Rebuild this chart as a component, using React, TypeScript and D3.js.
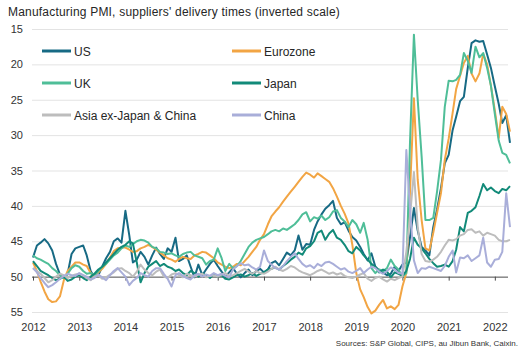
import * as d3 from "d3";
import React, { useEffect, useRef } from "react";

// monthly readings, Jan 2012 - May 2022 (inverted index, lower = longer delivery times)
const startMonth = new Date(2012, 0, 1);
const endMonth = new Date(2022, 5, 1);

const usValues = [
  47.3, 45.6, 45.2, 44.7, 45.3, 46.3, 48.2, 49.7, 50.2, 49.6, 46.8, 46.0,
  45.8, 45.6, 47.0, 49.2, 50.1, 49.8, 48.6, 47.4, 46.5, 45.0, 44.6, 45.2,
  40.7, 44.2, 48.0, 47.6, 46.5, 47.2, 48.3, 47.0, 45.9, 46.8, 47.5, 46.0,
  46.5, 44.5, 47.8, 47.5, 47.0, 48.6, 50.1, 48.3, 49.8, 49.0, 48.2, 47.6,
  48.5, 49.3, 50.0, 49.4, 48.8, 49.6, 50.1, 49.5, 49.0, 49.8, 49.2, 48.9,
  49.4, 49.0, 48.1, 47.8, 48.4, 47.5, 46.6, 47.0, 46.3, 44.2, 46.2, 45.4,
  45.5, 43.4, 42.2, 41.2, 40.4, 39.9, 39.3, 41.7, 42.6, 42.3, 43.5, 44.4,
  44.9, 45.8, 46.8, 47.7, 46.7, 48.6, 49.1, 49.4, 49.8, 49.6, 48.6, 49.2,
  48.3, 48.0, 44.5, 40.3, 43.5, 45.8, 46.3, 47.0, 43.0, 40.5, 37.5, 34.0,
  32.8, 29.3, 27.4, 25.2, 24.6, 20.5, 17.0, 16.6, 16.8, 16.7, 18.6, 20.5,
  23.1, 25.6, 28.3, 27.2, 31.1,
];

const eurozoneValues = [
  48.0, 49.2, 50.7, 52.1, 53.2, 53.6, 53.5, 52.8, 50.5, 49.2, 48.6, 48.0,
  48.0, 48.3, 48.5, 49.5, 50.0, 49.4, 48.9, 48.2, 47.3, 46.4, 46.0, 45.9,
  45.9, 46.2, 46.5, 46.4, 46.0, 45.8, 45.5, 45.8, 46.2, 46.6, 47.0, 47.4,
  47.6, 47.9, 47.5, 47.2, 47.4, 47.5, 47.0, 46.8, 46.5, 46.6, 47.0, 47.4,
  48.0, 48.3, 48.6, 48.8, 48.6, 48.2, 48.4, 47.8, 47.2, 46.5, 45.8, 44.8,
  44.0, 42.6, 41.5, 40.8, 40.2, 39.4, 38.7, 38.0, 37.3, 36.6, 35.9, 35.3,
  35.6, 36.0, 35.4, 35.8, 36.2, 36.6, 37.5, 38.7, 40.0, 41.1, 42.5, 45.5,
  49.5, 51.8, 52.9, 54.3, 55.2, 54.8, 54.0, 53.3, 54.5, 54.2, 54.6, 54.0,
  51.4, 49.5, 38.0, 24.8, 36.3, 42.0, 46.0, 46.3, 43.8, 41.0, 38.2, 33.5,
  30.5, 26.9, 23.5, 21.6, 19.8, 18.8, 21.3, 22.4, 21.3, 18.5, 20.0, 23.0,
  26.5, 30.4, 26.0, 27.0, 29.5,
];

const ukValues = [
  47.0, 47.4, 47.6, 47.9, 48.2, 48.8, 49.2, 49.8, 50.2, 49.6, 48.8, 48.4,
  48.6, 49.2, 49.6, 49.5, 49.8, 49.2, 48.6, 48.2, 47.6, 47.0, 46.6, 46.0,
  45.6, 45.8, 45.4, 45.0, 44.8, 44.9, 45.2, 45.8, 46.0, 46.5, 46.6, 46.8,
  46.7, 47.0, 47.2, 46.8, 46.6, 46.5, 47.0, 47.2, 47.4, 48.3, 47.8, 47.6,
  46.0, 47.4, 49.2, 48.2, 48.8, 48.5, 47.8, 46.8, 45.8, 45.2, 44.8, 44.6,
  44.4, 44.0, 43.6, 43.4, 43.6, 43.2, 43.4, 43.0, 42.6, 42.0, 41.2, 40.9,
  42.2, 41.6, 41.8, 41.4, 42.0, 41.6, 40.8, 40.6, 41.7, 42.2, 43.0, 42.0,
  42.6, 43.8, 42.4, 44.8, 48.8, 49.5, 49.0, 49.2, 48.8, 47.6, 48.5, 49.0,
  50.0, 49.5, 31.0, 15.8, 25.0, 33.0, 42.0, 42.0, 41.7, 38.0, 33.5, 26.0,
  22.3, 22.4, 22.2, 21.5, 18.4, 19.5, 21.2, 17.5, 19.0, 18.4, 20.5, 23.0,
  27.0, 30.8, 32.5, 32.8, 34.0,
];

const japanValues = [
  47.8, 48.5, 49.2, 49.5, 49.8, 50.2, 50.5, 50.3, 50.0, 50.6, 50.4, 50.0,
  49.8, 50.2, 50.5, 50.0, 49.6, 49.0, 48.6, 48.0, 47.4, 46.8, 46.2, 45.8,
  45.5, 45.0, 45.3, 48.0, 50.8, 49.5, 48.6, 48.2, 47.8, 48.5, 48.2, 48.6,
  48.8, 49.2, 49.0, 49.5, 49.8, 49.2, 49.5, 50.0, 49.6, 49.8, 50.2, 49.7,
  50.0, 49.8, 50.3, 50.4, 50.1, 49.8, 49.7, 50.0, 49.8, 49.5, 49.9, 49.6,
  49.4, 49.0, 48.9, 48.7, 49.0, 48.5, 48.1, 47.6, 47.2, 46.6, 46.9, 46.0,
  45.7, 45.0, 43.8, 43.5, 44.8, 43.9, 43.4, 44.5, 44.8, 45.5, 46.4, 46.7,
  45.8, 46.3, 47.0, 47.6, 48.2, 48.6, 49.4, 49.0, 49.3, 50.1, 49.4, 49.6,
  49.9, 49.2, 47.5, 44.5, 45.5, 46.0, 46.7, 47.5, 48.1, 48.6, 48.5, 48.3,
  48.6, 47.8, 46.2, 43.0, 43.6, 41.0, 40.7, 40.2, 38.6, 36.9, 37.8, 37.4,
  37.9, 38.2, 37.6, 37.8, 37.2,
];

const asiaValues = [
  48.8, 49.2, 49.6, 50.2, 50.8, 50.5, 50.0, 49.6, 49.8, 50.2, 49.9, 49.7,
  49.6, 49.8, 50.2, 50.5, 50.0, 49.8, 50.3, 50.1, 49.7, 49.4, 48.9, 48.8,
  49.2, 49.5, 50.0, 49.3, 48.3, 49.0, 49.5, 49.8, 49.3, 49.0, 50.0, 50.2,
  49.7, 49.5, 49.8, 50.1, 49.6, 49.8, 50.0, 49.7, 49.6, 50.1, 49.9, 49.8,
  50.0, 49.7, 49.5, 49.9, 49.8, 49.5, 49.2, 48.9, 49.3, 49.6, 49.2, 49.5,
  49.6, 49.3, 48.9, 48.6, 49.0, 49.2, 48.9, 48.5, 48.7, 49.1, 49.4, 49.6,
  49.8, 49.5, 49.2, 49.0, 49.3, 49.6, 49.4, 49.7, 49.5, 49.9, 50.1, 50.2,
  50.0, 49.7, 49.5, 50.3, 50.6, 50.2, 50.0, 50.4, 50.7, 50.3, 50.5, 50.2,
  50.0, 46.5, 41.5, 35.2, 43.0, 46.8, 47.8, 47.9, 47.6, 47.2, 46.5, 45.6,
  44.8, 44.9, 44.7, 44.2, 44.0, 43.4, 43.3, 43.8, 43.6, 44.2, 43.8, 44.0,
  44.2, 44.8, 45.0, 45.0, 44.8,
];

const chinaValues = [
  48.8, 49.4, 50.2, 50.9, 51.5, 51.2, 50.8, 50.3, 49.9, 49.6, 49.8, 49.9,
  49.5, 49.8, 50.0, 50.4, 50.2, 49.7, 50.1, 50.5, 49.8, 49.2, 48.8, 49.4,
  50.0, 51.2, 50.6, 50.2, 49.5, 49.8, 50.0, 49.2, 48.8, 48.8, 49.6, 50.3,
  51.4, 49.8, 49.5, 49.9, 50.2, 50.4, 49.8, 49.6, 50.0, 49.7, 49.9, 49.5,
  49.8, 49.6, 49.9, 50.1, 49.0, 48.5, 48.1, 48.4, 48.3, 48.7, 49.0, 48.6,
  46.3, 47.8, 48.3, 48.8, 49.0, 48.5, 47.8, 47.2, 46.7, 47.5, 48.2, 48.6,
  48.4, 48.8, 48.2, 48.5, 48.0, 47.9, 48.2, 48.6, 49.0, 48.8, 49.3, 49.5,
  49.2, 48.8, 49.5, 49.0, 48.6, 48.8, 49.3, 49.6, 49.2, 48.7, 49.0, 49.5,
  49.6, 32.1, 40.5, 47.7, 49.5, 48.8, 48.9, 48.6, 48.8, 49.0, 49.2, 48.5,
  47.2, 46.3, 49.4, 47.3, 47.4, 47.0, 47.8, 47.4, 47.0, 44.5, 48.0, 48.6,
  47.6, 47.5, 46.5, 38.2, 43.0,
];

const seriesNames = ["US", "Eurozone", "UK", "Japan", "Asia ex-Japan & China", "China"];
const seriesValues = [usValues, eurozoneValues, ukValues, japanValues, asiaValues, chinaValues];
const seriesColors = ["#176a84", "#f2a544", "#4fbe98", "#128a79", "#bdbdbd", "#a9aed9"];

const yTicks = [15, 20, 25, 30, 35, 40, 45, 50, 55];

const titleText = "Manufacturing PMI, suppliers' delivery times (inverted scale)";
const sourceText = "Sources: S&P Global, CIPS, au Jibun Bank, Caixin.";

const DeliveryTimesChart = ({ width = 527, height = 352 }) => {
  const svgRef = useRef(null);

  useEffect(() => {
    const svg = d3.select(svgRef.current);
    svg.selectAll("*").remove();
    svg.attr("width", width).attr("height", height);

    const font = "'Liberation Sans', Arial, sans-serif";
    const months = d3.timeMonth.range(startMonth, endMonth);

    const xScale = d3.scaleTime()
      .domain([months[0], months[months.length - 1]])
      .range([33, 510]);

    const yScale = d3.scaleLinear().domain([15, 55]).range([29, 312]);

    // title
    svg.append("text")
      .attr("x", 8)
      .attr("y", 16)
      .attr("fill", "#262626")
      .style("font-family", font)
      .style("font-size", "12px")
      .style("letter-spacing", "0.2px")
      .text(titleText);

    // y axis + gridlines
    const yAxis = svg.append("g")
      .attr("transform", "translate(32, 0)")
      .call(d3.axisLeft(yScale).tickValues(yTicks).tickSize(-476).tickPadding(9));
    yAxis.select(".domain").remove();
    yAxis.selectAll("line")
      .attr("stroke", d => (d === 50 ? "#4a4a4a" : "#e3e3e3"))
      .attr("stroke-width", 1);
    yAxis.selectAll("text")
      .attr("fill", "#333")
      .style("font-family", font)
      .style("font-size", "11px");

    // ticks on the 50 line
    const tickAxis = svg.append("g")
      .attr("transform", `translate(0, ${yScale(50)})`)
      .call(d3.axisBottom(xScale).ticks(d3.timeYear.every(1)).tickSize(4).tickFormat(() => ""));
    tickAxis.select(".domain").remove();
    tickAxis.selectAll("line").attr("stroke", "#4a4a4a");

    // year labels at the bottom
    const labelAxis = svg.append("g")
      .attr("transform", `translate(0, ${yScale(55)})`)
      .call(d3.axisBottom(xScale).ticks(d3.timeYear.every(1)).tickSize(0).tickPadding(11)
        .tickFormat(d3.timeFormat("%Y")));
    labelAxis.select(".domain").remove();
    labelAxis.selectAll("text")
      .attr("fill", "#333")
      .style("font-family", font)
      .style("font-size", "11px");

    // lines
    const line = d3.line()
      .x((d, i) => xScale(months[i]))
      .y(d => yScale(d));

    seriesValues.forEach((values, i) => {
      svg.append("path")
        .datum(values)
        .attr("fill", "none")
        .attr("stroke", seriesColors[i])
        .attr("stroke-width", 2)
        .attr("stroke-linejoin", "round")
        .attr("d", line);
    });

    // legend
    const legend = svg.append("g");
    seriesNames.forEach((name, i) => {
      const col = i % 2;
      const row = Math.floor(i / 2);
      const lx = col === 0 ? 42 : 232;
      const ly = 51 + row * 32;
      legend.append("line")
        .attr("x1", lx).attr("x2", lx + 29)
        .attr("y1", ly).attr("y2", ly)
        .attr("stroke", seriesColors[i])
        .attr("stroke-width", 3);
      legend.append("text")
        .attr("x", lx + 32)
        .attr("y", ly + 4.5)
        .attr("fill", "#262626")
        .style("font-family", font)
        .style("font-size", "12px")
        .text(name);
    });

    // source
    svg.append("text")
      .attr("x", 518)
      .attr("y", 346)
      .attr("text-anchor", "end")
      .attr("fill", "#333")
      .style("font-family", font)
      .style("font-size", "8px")
      .text(sourceText);
  }, [width, height]);

  return <svg ref={svgRef} style={{ position: "absolute", left: 0, top: 0, background: "#fff" }}></svg>;
};

export default function App() {
  return <DeliveryTimesChart />;
}
